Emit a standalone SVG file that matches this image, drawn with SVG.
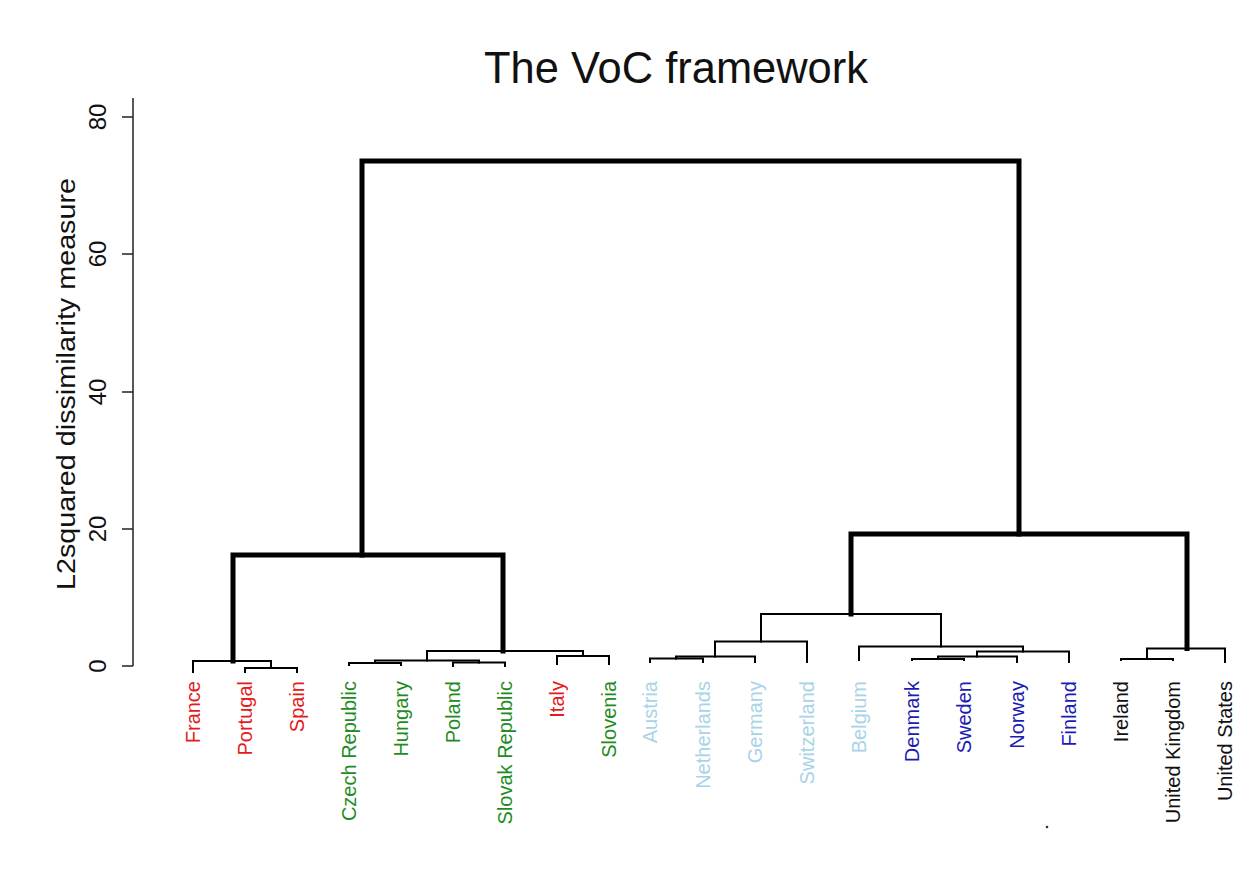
<svg xmlns="http://www.w3.org/2000/svg" width="1246" height="881" viewBox="0 0 1246 881">
<style>
text{font-family:"Liberation Sans",Arial,sans-serif}
.lbl{font-size:20px;text-anchor:end}
.tick{font-size:24px;text-anchor:middle;fill:#111}
.thin{fill:none;stroke:#000;stroke-width:2;stroke-linecap:square}
.thick{fill:none;stroke:#000;stroke-width:5;stroke-linecap:square;stroke-linejoin:miter}
.ax{fill:none;stroke:#222;stroke-width:1.5}
.red{fill:#e41a1c}.grn{fill:#1e8c1e}.lbl2{fill:#a8d4e6}.blu{fill:#1c1cb4}.blk{fill:#111}
</style>
<rect width="1246" height="881" fill="#fff"/>
<text id="title" x="484" y="83" font-size="44" textLength="384" lengthAdjust="spacingAndGlyphs" fill="#111">The VoC framework</text>
<g id="axis">
<path class="ax" d="M133,98 V666 M122,117 H133 M122,254 H133 M122,392 H133 M122,529 H133 M122,666 H133"/>
<text class="tick" transform="translate(106,117) rotate(-90)">80</text>
<text class="tick" transform="translate(106,254) rotate(-90)">60</text>
<text class="tick" transform="translate(106,392) rotate(-90)">40</text>
<text class="tick" transform="translate(106,529) rotate(-90)">20</text>
<text class="tick" transform="translate(106,666) rotate(-90)">0</text>
<text transform="translate(75,590) rotate(-90)" font-size="25" textLength="412" lengthAdjust="spacingAndGlyphs" fill="#111">L2squared dissimilarity measure</text>
</g>
<g id="connectors">
<path class="thick" d="M362,555 V161 H1019 V534"/>
<path class="thick" d="M233,661 V555 H503 V651"/>
<path class="thick" d="M851,614 V534 H1187 V648.5"/>
<path class="thin" d="M193,672 V661 H271 V668"/>
<path class="thin" d="M245,672 V668 H297 V672"/>
<path class="thin" d="M349,665 V663 H401 V665"/>
<path class="thin" d="M453,666 V662.5 H505 V666"/>
<path class="thin" d="M375,663 V660.5 H479 V662.5"/>
<path class="thin" d="M557,664 V656 H609 V664"/>
<path class="thin" d="M427,660.5 V651 H583 V656"/>
<path class="thin" d="M650,662 V658.5 H703 V662"/>
<path class="thin" d="M676,658.5 V656.5 H755 V662"/>
<path class="thin" d="M715,656.5 V641.5 H807 V662"/>
<path class="thin" d="M912,660 V659 H964 V660"/>
<path class="thin" d="M938,659 V656.5 H1017 V662"/>
<path class="thin" d="M977,656.5 V651.5 H1069 V662"/>
<path class="thin" d="M859,660 V646.5 H1023 V651.5"/>
<path class="thin" d="M761,641.5 V614 H941 V646.5"/>
<path class="thin" d="M1121,660 V659 H1173 V660"/>
<path class="thin" d="M1147,659 V648.5 H1225 V662"/>
</g>
<g id="leaf-france"><text class="lbl red" transform="translate(200,681) rotate(-90)">France</text></g>
<g id="leaf-portugal"><text class="lbl red" transform="translate(252,681) rotate(-90)">Portugal</text></g>
<g id="leaf-spain"><text class="lbl red" transform="translate(304,681) rotate(-90)">Spain</text></g>
<g id="leaf-czech"><text class="lbl grn" transform="translate(356,681) rotate(-90)">Czech Republic</text></g>
<g id="leaf-hungary"><text class="lbl grn" transform="translate(408,681) rotate(-90)">Hungary</text></g>
<g id="leaf-poland"><text class="lbl grn" transform="translate(460,681) rotate(-90)">Poland</text></g>
<g id="leaf-slovak"><text class="lbl grn" transform="translate(512,681) rotate(-90)">Slovak Republic</text></g>
<g id="leaf-italy"><text class="lbl red" transform="translate(564,681) rotate(-90)">Italy</text></g>
<g id="leaf-slovenia"><text class="lbl grn" transform="translate(616,681) rotate(-90)">Slovenia</text></g>
<g id="leaf-austria"><text class="lbl lbl2" transform="translate(657,681) rotate(-90)">Austria</text></g>
<g id="leaf-netherlands"><text class="lbl lbl2" transform="translate(710,681) rotate(-90)">Netherlands</text></g>
<g id="leaf-germany"><text class="lbl lbl2" transform="translate(762,681) rotate(-90)">Germany</text></g>
<g id="leaf-switzerland"><text class="lbl lbl2" transform="translate(814,681) rotate(-90)">Switzerland</text></g>
<g id="leaf-belgium"><text class="lbl lbl2" transform="translate(866,681) rotate(-90)">Belgium</text></g>
<g id="leaf-denmark"><text class="lbl blu" transform="translate(919,681) rotate(-90)">Denmark</text></g>
<g id="leaf-sweden"><text class="lbl blu" transform="translate(971,681) rotate(-90)">Sweden</text></g>
<g id="leaf-norway"><text class="lbl blu" transform="translate(1024,681) rotate(-90)">Norway</text></g>
<g id="leaf-finland"><text class="lbl blu" transform="translate(1076,681) rotate(-90)">Finland</text></g>
<g id="leaf-ireland"><text class="lbl blk" transform="translate(1128,681) rotate(-90)">Ireland</text></g>
<g id="leaf-uk"><text class="lbl blk" transform="translate(1180,681) rotate(-90)">United Kingdom</text></g>
<g id="leaf-us"><text class="lbl blk" transform="translate(1232,681) rotate(-90)">United States</text></g>
<circle cx="1047" cy="827" r="1.3" fill="#333"/>
</svg>
